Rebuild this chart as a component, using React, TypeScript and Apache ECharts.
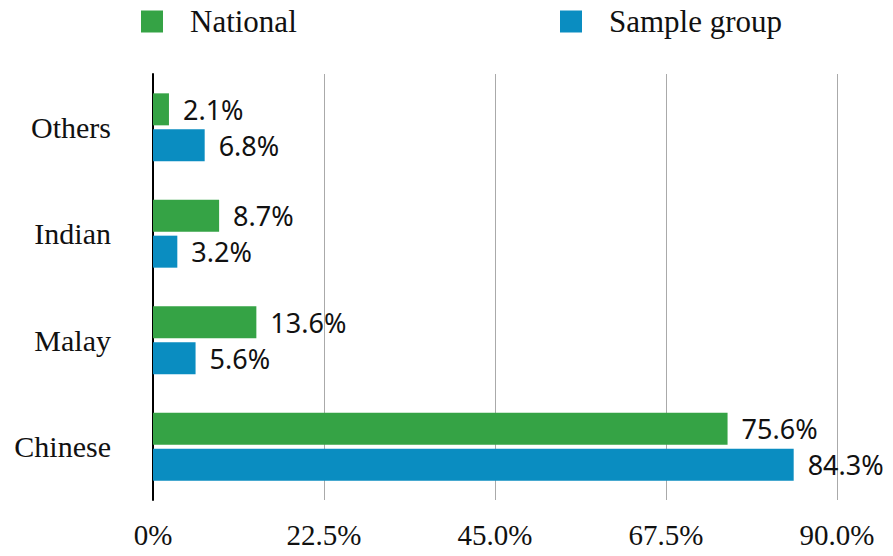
import React, { useEffect, useRef } from "react";
import * as echarts from "echarts";

const categories = ["Chinese", "Malay", "Indian", "Others"];
const nationalValues = [75.6, 13.6, 8.7, 2.1];
const sampleValues = [84.3, 5.6, 3.2, 6.8];
const xTicks = [0, 22.5, 45, 67.5, 90];

const GREEN = "#35a345";
const BLUE = "#0a8dc1";
const SERIF = "'Liberation Serif', 'Times New Roman', serif";
const SANS = "'Noto Sans', sans-serif";

export default function App() {
  const ref = useRef<HTMLDivElement>(null);
  useEffect(() => {
    if (!ref.current) return;
    document.body.style.margin = "0";
    const chart = echarts.init(ref.current, null, { renderer: "svg" });
    const labelCfg = {
      show: true,
      position: "right" as const,
      distance: 14,
      color: "#111",
      fontFamily: SANS,
      fontSize: 27,
      formatter: (p: any) => p.value.toFixed(1) + "%",
    };
    const legendBase = {
      top: 6,
      padding: 0,
      itemWidth: 22,
      itemHeight: 22,
      icon: "rect",
      textStyle: { fontFamily: SERIF, fontSize: 31, color: "#111", padding: [0, 0, 0, 22] },
    };
    chart.setOption({
      animation: false,
      backgroundColor: "#fff",
      legend: [
        { ...legendBase, data: ["National"], left: 141 },
        { ...legendBase, data: ["Sample group"], left: 560 },
      ],
      grid: { left: 153, right: 56, top: 74, bottom: 56, containLabel: false },
      xAxis: {
        type: "value",
        min: xTicks[0],
        max: xTicks[xTicks.length - 1],
        interval: xTicks[1] - xTicks[0],
        axisLine: { show: false },
        axisTick: { show: false },
        splitLine: {
          show: true,
          lineStyle: { color: "#aaa", width: 1 },
          showMinLine: false,
        },
        axisLabel: {
          fontFamily: SERIF,
          fontSize: 29,
          color: "#111",
          margin: 20,
          formatter: (v: number) => (v === 0 ? "0%" : v.toFixed(1) + "%"),
        },
      },
      yAxis: {
        type: "category",
        data: categories,
        axisLine: { show: true, lineStyle: { color: "#000", width: 2 } },
        axisTick: { show: false },
        axisLabel: { fontFamily: SERIF, fontSize: 30, color: "#111", margin: 42 },
      },
      series: [
        {
          name: "National",
          type: "bar",
          data: nationalValues,
          barWidth: 32,
          barGap: "12%",
          itemStyle: { color: GREEN },
          label: labelCfg,
        },
        {
          name: "Sample group",
          type: "bar",
          data: sampleValues,
          barWidth: 32,
          barGap: "12%",
          itemStyle: { color: BLUE },
          label: labelCfg,
        },
      ],
    });
    return () => chart.dispose();
  }, []);
  return <div ref={ref} style={{ width: 893, height: 556 }} />;
}
